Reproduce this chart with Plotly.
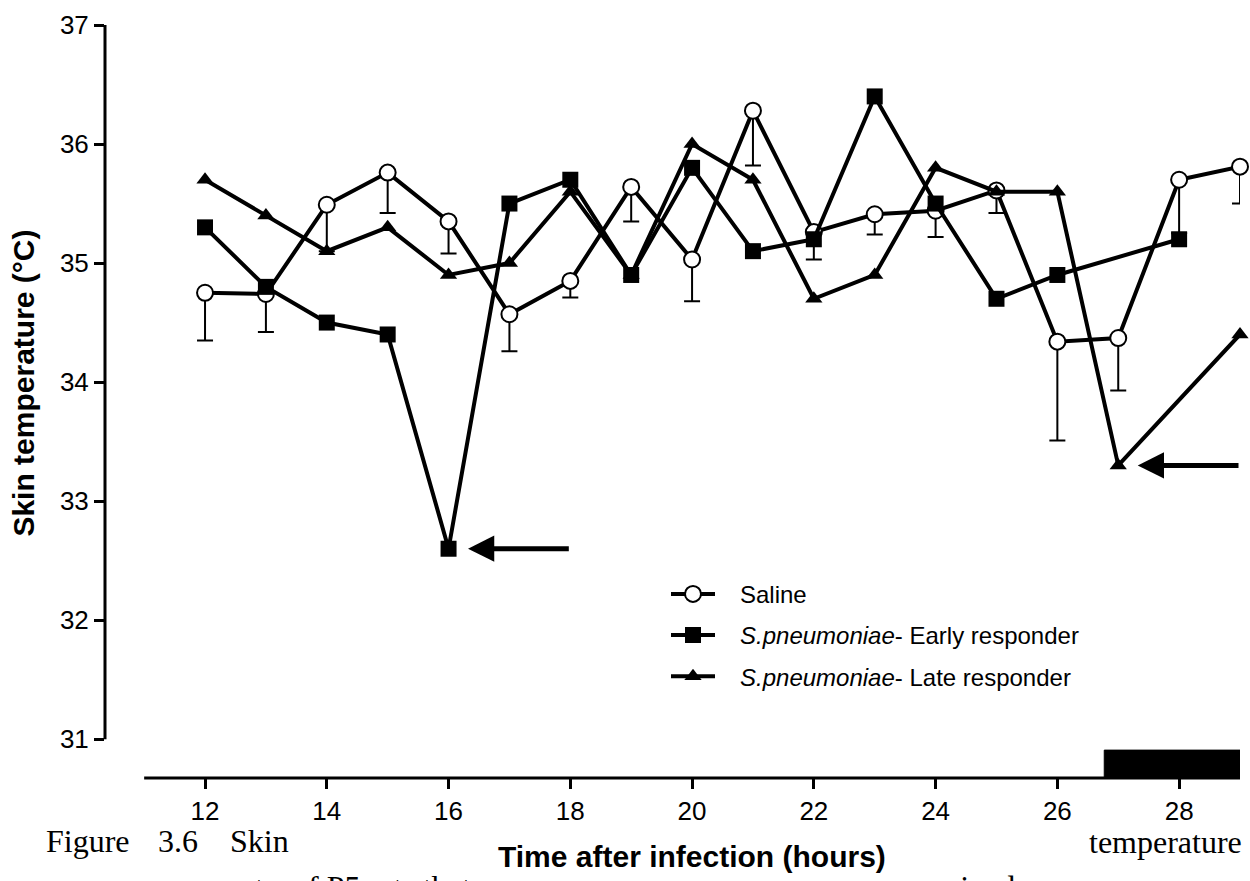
import plotly.graph_objects as go

# ---------------- data ----------------
hours = [12, 13, 14, 15, 16, 17, 18, 19, 20, 21, 22, 23, 24, 25, 26, 27, 28, 29]
saline = [34.75, 34.74, 35.49, 35.76, 35.35, 34.57, 34.85, 35.64, 35.03, 36.28,
          35.26, 35.41, 35.44, 35.61, 34.34, 34.37, 35.70, 35.81]
saline_sem = [0.40, 0.32, 0.39, 0.34, 0.27, 0.31, 0.14, 0.29, 0.35, 0.46,
              0.23, 0.17, 0.22, 0.19, 0.83, 0.44, 0.45, 0.31]

early_hours = [12, 13, 14, 15, 16, 17, 18, 19, 20, 21, 22, 23, 24, 25, 26, 28]
early = [35.3, 34.8, 34.5, 34.4, 32.6, 35.5, 35.7, 34.9, 35.8, 35.1, 35.2, 36.4,
         35.5, 34.7, 34.9, 35.2]

late_hours = [12, 13, 14, 15, 16, 17, 18, 19, 20, 21, 22, 23, 24, 25, 26, 27, 29]
late = [35.7, 35.4, 35.1, 35.3, 34.9, 35.0, 35.6, 34.9, 36.0, 35.7, 34.7, 34.9,
        35.8, 35.6, 35.6, 33.3, 34.4]

x_ticks = [12, 14, 16, 18, 20, 22, 24, 26, 28]
y_ticks = [31, 32, 33, 34, 35, 36, 37]
dark_period = [26.77, 29.0]

names = ["Saline",
         "<i>S.pneumoniae</i>- Early responder",
         "<i>S.pneumoniae</i>- Late responder"]

# ---------------- layout geometry ----------------
W, H = 1250, 881
ML, MR, MT, MB = 105, 10, 22, 103
PW, PH = W - ML - MR, H - MT - MB
X_RANGE = [10.357, 29.0]
Y_RANGE = [30.674, 37.0]

SANS = "Liberation Sans, Arial, sans-serif"
SERIF = "Liberation Serif, Times New Roman, serif"
PAD = "\u00a0\u00a0\u00a0"


def px_x(px):
    return (px - ML) / PW


def px_y(py):
    return (H - MB - py) / PH


fig = go.Figure()

fig.add_trace(go.Scatter(
    x=hours, y=saline, name=PAD + names[0], mode="lines+markers",
    line=dict(color="black", width=4),
    marker=dict(symbol="circle", size=16, color="white",
                line=dict(color="black", width=2)),
    error_y=dict(type="data", symmetric=False, array=[0] * len(saline_sem),
                 arrayminus=saline_sem, color="black", thickness=2, width=8),
    legendgroup="a", cliponaxis=False,
))
fig.add_trace(go.Scatter(
    x=early_hours, y=early, name=PAD + names[1], mode="lines+markers",
    line=dict(color="black", width=4),
    marker=dict(symbol="square", size=16, color="black",
                line=dict(color="black", width=0)),
    legendgroup="b", cliponaxis=False,
))
fig.add_trace(go.Scatter(
    x=late_hours, y=late, name=PAD + names[2], mode="lines+markers",
    line=dict(color="black", width=4),
    marker=dict(symbol="triangle-up", size=15, color="black",
                line=dict(color="black", width=0)),
    legendgroup="c", cliponaxis=False,
))

shapes = [
    # y axis line (31..37)
    dict(type="line", xref="paper", yref="y", x0=0, x1=0, y0=y_ticks[0], y1=y_ticks[-1],
         line=dict(color="black", width=3)),
    # x axis line (11..29)
    dict(type="line", xref="x", yref="paper", x0=11, x1=29, y0=0, y1=0,
         line=dict(color="black", width=3)),
    # dark-period bar
    dict(type="rect", xref="x", yref="paper", x0=dark_period[0], x1=dark_period[1],
         y0=0, y1=28 / PH, fillcolor="black", line=dict(color="black", width=1)),
]

annotations = []
# arrows pointing to the drop points
i_e = early.index(min(early))
i_l = late.index(min(late))
for xm, ym in [(early_hours[i_e], early[i_e]), (late_hours[i_l], late[i_l])]:
    annotations.append(dict(
        x=xm + 0.32, y=ym, ax=xm + 2.0, ay=ym, xref="x", yref="y",
        axref="x", ayref="y", text="", showarrow=True,
        arrowhead=2, arrowsize=1.05, arrowwidth=5, arrowcolor="black", standoff=0,
    ))

# axis titles
annotations.append(dict(
    text="<b>Skin temperature (°C)</b>", textangle=-90,
    x=px_x(24), y=px_y(382), xref="paper", yref="paper", xanchor="center", yanchor="middle",
    showarrow=False, font=dict(family=SANS, size=30, color="black")))
annotations.append(dict(
    text="<b>Time after infection (hours)</b>",
    x=20, y=px_y(857), xref="x", yref="paper", xanchor="center", yanchor="middle",
    showarrow=False, font=dict(family=SANS, size=30, color="black")))

# caption fragments (document text partly hidden behind the chart)
cap_font = dict(family=SERIF, size=32, color="black")
for txt, xpx in [("Figure", 44), ("3.6", 156), ("Skin", 228)]:
    annotations.append(dict(text=txt, x=px_x(xpx), y=px_y(841), xref="paper", yref="paper",
                            xanchor="left", yanchor="middle", showarrow=False, font=cap_font))
annotations.append(dict(text="temperature", x=px_x(1244), y=px_y(842), xref="paper",
                        yref="paper", xanchor="right", yanchor="middle", showarrow=False,
                        font=cap_font))
annotations.append(dict(text="measurement", x=px_x(266), y=px_y(887),
                        xref="paper", yref="paper", xanchor="right", yanchor="middle",
                        showarrow=False, font=cap_font))
annotations.append(dict(text="of P5 rats that", x=px_x(290), y=px_y(887),
                        xref="paper", yref="paper", xanchor="left", yanchor="middle",
                        showarrow=False, font=cap_font))
annotations.append(dict(text="received", x=px_x(905), y=px_y(887),
                        xref="paper", yref="paper", xanchor="left", yanchor="middle",
                        showarrow=False, font=cap_font))

fig.update_layout(
    width=W, height=H,
    margin=dict(l=ML, r=MR, t=MT, b=MB, pad=0),
    paper_bgcolor="white", plot_bgcolor="white",
    shapes=shapes, annotations=annotations,
    showlegend=True,
    legend=dict(x=px_x(666), y=px_y(571), xanchor="left", yanchor="top",
                font=dict(family=SANS, size=24, color="black"),
                itemwidth=44, tracegroupgap=7, bgcolor="rgba(0,0,0,0)",
                traceorder="grouped"),
    xaxis=dict(range=X_RANGE, tickvals=x_ticks, ticks="outside", ticklen=10, tickwidth=3,
               tickcolor="black", showline=False, showgrid=False, zeroline=False,
               tickfont=dict(family=SANS, size=26, color="black"), fixedrange=True),
    yaxis=dict(range=Y_RANGE, tickvals=y_ticks, ticks="outside", ticklen=10, tickwidth=3,
               tickcolor="black", showline=False, showgrid=False, zeroline=False,
               tickfont=dict(family=SANS, size=26, color="black"), fixedrange=True),
)

fig.write_html("out.html")
